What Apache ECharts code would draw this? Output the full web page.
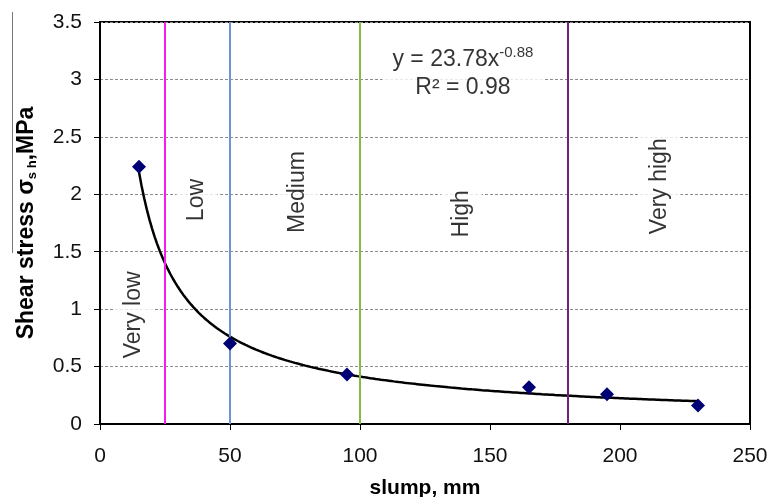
<!DOCTYPE html>
<html>
<head>
<meta charset="utf-8">
<script src="https://cdn.jsdelivr.net/npm/echarts@6/dist/echarts.min.js"></script>
<style>
  html, body { margin: 0; padding: 0; background: #fff; }
  #chart { width: 771px; height: 497px; }
</style>
</head>
<body>
<div id="chart"></div>
<script>
// Measured shear stress against slump
const slump = [15, 50, 95, 165, 195, 230];
const shearStress = [2.24, 0.70, 0.43, 0.32, 0.26, 0.16];

// Power-law fit y = a * x^b and its goodness of fit
const fitA = 23.78;
const fitB = -0.88;
const fitR2 = 0.98;
const fitRange = [15, 230];

// Workability class boundaries (slump, mm)
const boundaries = [25, 50, 100, 180];
const boundaryColors = ['#f01ef0', '#6f93d6', '#86b84a', '#72207f'];
const classNames = ['Very low', 'Low', 'Medium', 'High', 'Very high'];

// Axis ticks
const xTicks = [0, 50, 100, 150, 200, 250];
const yTicks = [0, 0.5, 1, 1.5, 2, 2.5, 3, 3.5];

const FONT = '"Liberation Sans", Arial, sans-serif';

// Fitted curve, sampled from the stated equation
const fitLine = [];
for (let x = fitRange[0]; x <= fitRange[1]; x += 1) {
  fitLine.push([x, fitA * Math.pow(x, fitB)]);
}

// Anchor for each class label (slump, stress)
const classAnchors = [[13, 0.95], [37.3, 1.95], [76.2, 2.02], [139, 1.83], [215.4, 2.07]];

const chart = echarts.init(document.getElementById('chart'), null, { renderer: 'canvas' });

chart.setOption({
  animation: false,
  backgroundColor: '#fff',
  grid: {
    left: 100, right: 21, top: 22, bottom: 73,
    outerBoundsMode: 'none',
    containLabel: false,
    show: true, borderColor: '#000', borderWidth: 2, backgroundColor: 'transparent'
  },
  xAxis: {
    type: 'value',
    min: xTicks[0], max: xTicks[xTicks.length - 1], interval: 50,
    name: 'slump, mm',
    nameLocation: 'middle',
    nameGap: 54,
    nameTextStyle: { fontFamily: FONT, fontSize: 21, fontWeight: 'bold', color: '#000' },
    axisLine: { show: true, lineStyle: { color: '#000', width: 2 } },
    axisTick: { show: true, inside: false, length: 6, lineStyle: { color: '#000', width: 1 } },
    axisLabel: { fontFamily: FONT, fontSize: 21, color: '#111', margin: 22 },
    splitLine: { show: false }
  },
  yAxis: {
    type: 'value',
    min: yTicks[0], max: yTicks[yTicks.length - 1], interval: 0.5,
    name: '{b|Shear stress σ}{s|s h}{b|,MPa}',
    nameLocation: 'middle',
    nameGap: 58,
    nameRotate: 90,
    nameTextStyle: {
      rich: {
        b: { fontFamily: FONT, fontSize: 23, fontWeight: 'bold', color: '#000', lineHeight: 30, verticalAlign: 'middle' },
        s: { fontFamily: FONT, fontSize: 13, fontWeight: 'bold', color: '#000', lineHeight: 30, verticalAlign: 'bottom', padding: [0, 0, 3, 0] }
      }
    },
    axisLine: { show: true, lineStyle: { color: '#000', width: 2 } },
    axisTick: { show: true, inside: false, length: 6, lineStyle: { color: '#000', width: 1 } },
    axisLabel: {
      fontFamily: FONT, fontSize: 21, color: '#111', margin: 18,
      formatter: v => String(v)
    },
    splitLine: { show: true, lineStyle: { color: '#8a8a8a', width: 1, type: [3, 2] } }
  },
  graphic: [
    { type: 'line', shape: { x1: 12.5, y1: 12, x2: 12.5, y2: 253 }, style: { stroke: '#777', lineWidth: 1 }, silent: true }
  ],
  series: [
    {
      // Class boundaries
      type: 'line',
      data: [],
      silent: true,
      markLine: {
        symbol: 'none',
        silent: true,
        label: { show: false },
        data: boundaries.map((b, i) => ({ xAxis: b, lineStyle: { color: boundaryColors[i], width: 2, type: 'solid' } }))
      },
      z: 3
    },
    {
      // Class names
      type: 'scatter',
      symbolSize: 0,
      silent: true,
      data: classAnchors.map((c, i) => ({ value: c, name: classNames[i] })),
      label: {
        show: true,
        position: 'inside',
        rotate: 90,
        formatter: p => p.name,
        fontFamily: FONT, fontSize: 23, color: '#000',
        backgroundColor: '#fff',
        padding: [9, 3, 9, 3]
      },
      z: 2
    },
    {
      // Fit equation
      type: 'scatter',
      symbolSize: 0,
      silent: true,
      data: [[139.6, 3.05]],
      label: {
        show: true,
        position: 'inside',
        align: 'center',
        formatter: '{n|y = ' + fitA + 'x}{sup|' + fitB + '}\n{n|R² = ' + fitR2 + '}',
        backgroundColor: '#fff',
        padding: [2, 10, 2, 10],
        rich: {
          n: { fontFamily: FONT, fontSize: 23, color: '#000', lineHeight: 28, align: 'center' },
          sup: { fontFamily: FONT, fontSize: 15, color: '#000', lineHeight: 28, verticalAlign: 'top' }
        }
      },
      z: 2
    },
    {
      // Fitted power-law curve
      type: 'line',
      data: fitLine,
      showSymbol: false,
      smooth: false,
      lineStyle: { color: '#000', width: 2.5 },
      silent: true,
      z: 4
    },
    {
      // Measurements
      type: 'scatter',
      data: slump.map((x, i) => [x, shearStress[i]]),
      symbol: 'diamond',
      symbolSize: 14,
      itemStyle: { color: '#000075', opacity: 1 },
      z: 5
    }
  ]
});
</script>
</body>
</html>
